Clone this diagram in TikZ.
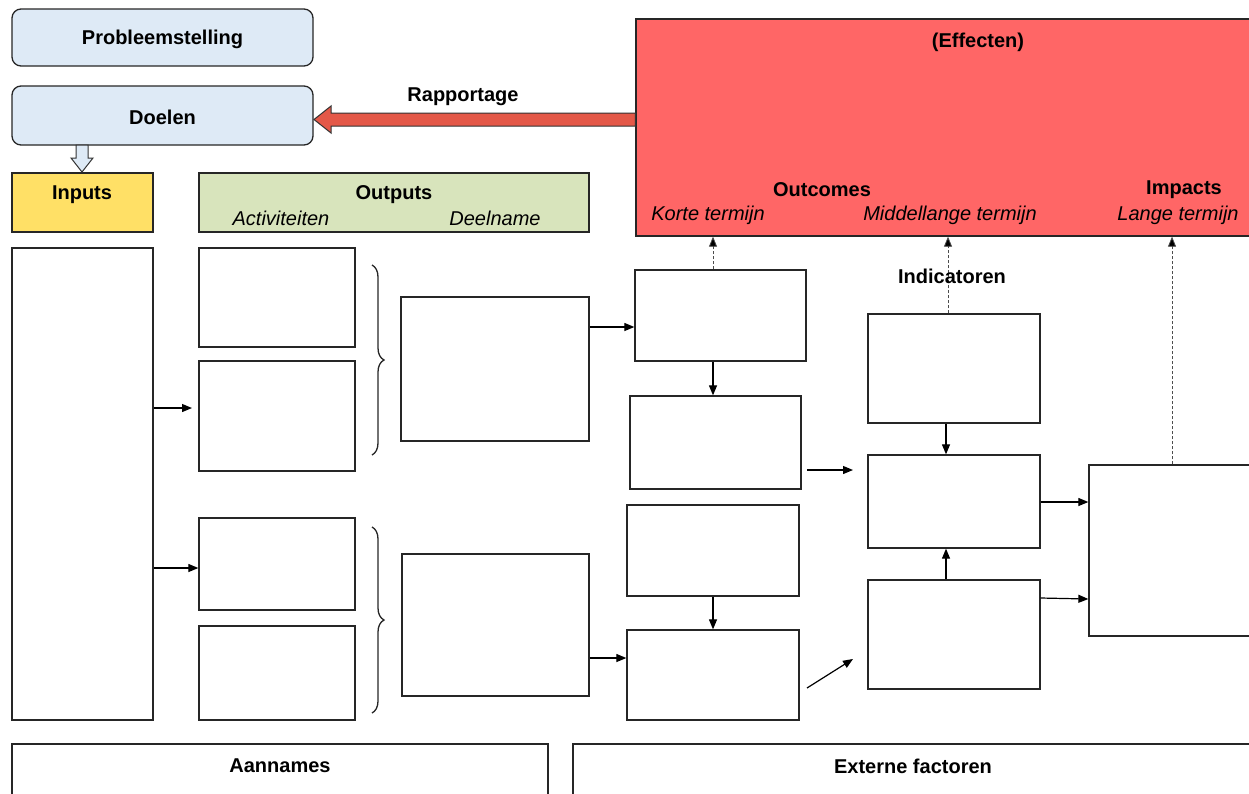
\documentclass[tikz,border=0pt]{standalone}
\usepackage{fontspec}
\setmainfont{Liberation Sans}
\usetikzlibrary{arrows.meta,decorations.pathreplacing,calc}
\definecolor{lblue}{RGB}{222,234,246}
\definecolor{lyellow}{RGB}{255,224,102}
\definecolor{lgreen}{RGB}{216,228,188}
\definecolor{effred}{RGB}{255,102,102}
\definecolor{arrred}{RGB}{228,88,72}
\tikzset{
  box/.style={draw=black!85,line width=1.3pt,fill=white,inner sep=0pt},
  conn/.style={line width=1.2pt,-{Triangle[length=10pt,width=8pt]}},
  dconn/.style={line width=0.8pt,dash pattern=on 3pt off 2pt,black!70,-{Triangle[length=10pt,width=8pt,fill=black]}},
  brc/.style={decorate,decoration={brace,amplitude=12pt},line width=1.3pt,black!85},
  bt/.style={font=\fontsize{20}{24}\selectfont\bfseries,yshift=-2pt},
  it/.style={font=\fontsize{20}{24}\selectfont\itshape,yshift=-1pt},
}
\newcommand\bx[6][]{\node[box,#1,minimum width={(#5)-(#3)},minimum height={(#6)-(#4)}] (#2) at ({((#3)+(#5))/2},{((#4)+(#6))/2}) {};}
\begin{document}
\begin{tikzpicture}[x=1pt,y=-1pt]
\useasboundingbox (0,0) rectangle (1249,793);
% top left
\bx[rounded corners=9pt,fill=lblue]{prob}{12}{9}{313}{66}
\node[bt] (probt) at (prob) {Probleemstelling};
\bx[rounded corners=9pt,fill=lblue]{doel}{12}{86}{313}{145}
\node[bt] (doelt) at (doel) {Doelen};
\bx[fill=lyellow]{inp}{12}{173}{153}{232}
\node[bt] (inpt) at (82,193) {Inputs};
\bx[fill=lgreen]{outp}{199}{173}{589}{232}
\node[bt] (outt) at (394,193) {Outputs};
\node[it] (act) at (281,217) {Activiteiten};
\node[it] (deel) at (495,217) {Deelname};
% down hollow arrow
\filldraw[fill=lblue,draw=black!80,line width=1pt] (76,145) -- (88,145) -- (88,158) -- (93,158) -- (82,172) -- (71,158) -- (76,158) -- cycle;
% effects box
\bx[fill=effred]{eff}{636}{19}{1256}{236}
\node[bt] (efft) at (978,40) {(Effecten)};
\node[bt] (outc) at (822,188) {Outcomes};
\node[bt] (impc) at (1184,188) {Impacts};
\node[it] (kort) at (708,214) {Korte termijn};
\node[it] (midl) at (950,214) {Middellange termijn};
\node[it] (lang) at (1178,214) {Lange termijn};
% rapportage arrow
\filldraw[fill=arrred,draw=black!80,line width=1pt] (eff.west |- 0,113) -- (331,113) -- (331,106) -- (314,119.5) -- (331,133) -- (331,126) -- (eff.west |- 0,126) -- cycle;
\node[bt] (rap) at (463,95) {Rapportage};
% main boxes
\bx{inbig}{12}{248}{153}{720}
\bx{a1}{199}{248}{355}{347}
\bx{a2}{199}{361}{355}{471}
\bx{a3}{199}{518}{355}{610}
\bx{a4}{199}{626}{355}{720}
\bx{d1}{401}{297}{589}{441}
\bx{d2}{402}{554}{589}{696}
\bx{s1}{635}{270}{806}{361}
\bx{s2}{630}{396}{801}{489}
\bx{s3}{627}{505}{799}{596}
\bx{s4}{627}{630}{799}{720}
\bx{m0}{868}{314}{1040}{423}
\bx{m1}{868}{455}{1040}{548}
\bx{m2}{868}{580}{1040}{689}
\bx{imp}{1089}{465}{1256}{636}
\bx{aann}{12}{744}{548}{800}
\bx{ext}{573}{744}{1256}{800}
\node[bt] (aannt) at (280,764) {Aannames};
\node[bt] (extt) at (913,764) {Externe factoren};
% braces
\draw[brc] (372,265) -- (372,455);
\draw[brc] (372,527) -- (372,713);
% arrows
\coordinate (f1) at (807,470);
\coordinate (f1e) at (853,470);
\coordinate (f2) at (807,688);
\coordinate (f2e) at (853,659);
\draw[conn] (inbig.east |- 0,408) -- (192,408);
\draw[conn] (inbig.east |- 0,568) -- (a3.west |- 0,568);
\draw[conn] (d1.east |- 0,327) -- (s1.west |- 0,327);
\draw[conn] (d2.east |- 0,658) -- (s4.west |- 0,658);
\draw[conn] (s1.south -| 713,0) -- (s2.north -| 713,0);
\draw[conn] (s3.south -| 713,0) -- (s4.north -| 713,0);
\draw[conn] (f1) -- (f1e);
\draw[conn] (f2) -- (f2e);
\draw[conn] (m0.south -| 946,0) -- (m1.north -| 946,0);
\draw[conn] (m2.north -| 946,0) -- (m1.south -| 946,0);
\draw[conn] (m1.east |- 0,502) -- (imp.west |- 0,502);
\draw[conn] (m2.east |- 0,598) -- (imp.west |- 0,599);
% dashed indicator arrows
\draw[dconn] (s1.north -| 713,0) -- (eff.south -| 713,0);
\draw[dconn] (m0.north -| 948,0) -- (eff.south -| 948,0);
\draw[dconn] (imp.north -| 1172,0) -- (eff.south -| 1172,0);
\node[bt] (ind) at (952,274) {Indicatoren};
\end{tikzpicture}
\end{document}
